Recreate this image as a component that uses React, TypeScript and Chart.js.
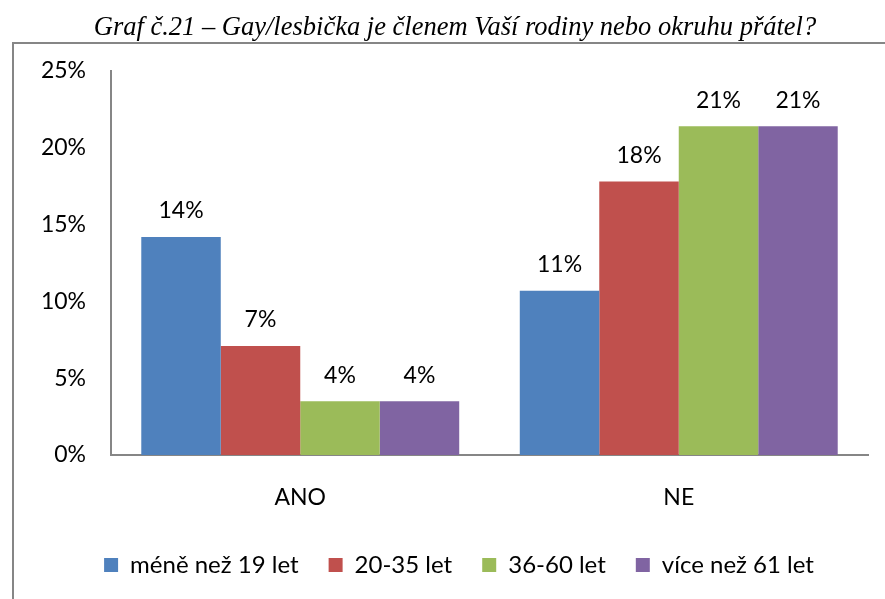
import React, { useEffect, useRef } from "react";
import { Chart, registerables } from "chart.js";

Chart.register(...registerables);

const TITLE = "Graf č.21 – Gay/lesbička je členem Vaší rodiny nebo okruhu přátel?";
const categories = ["ANO", "NE"];
const seriesNames = ["méně než 19 let", "20-35 let", "36-60 let", "více než 61 let"];
const seriesColors = ["#4F81BD", "#C0504D", "#9BBB59", "#8064A2"];
const under19 = [0.142, 0.107];
const age20to35 = [0.071, 0.178];
const age36to60 = [0.035, 0.214];
const over61 = [0.035, 0.214];
const yTicks = [0, 0.05, 0.1, 0.15, 0.2, 0.25];

const FONT = "Lato";

const pct = (v: number) => Math.round(v * 100) + "%";

const frameAndLabels = {
  id: "frameAndLabels",
  afterLayout(chart: any) {
    if (chart.legend) {
      chart.legend.left += 24;
      chart.legend.right += 24;
    }
  },
  beforeDraw(chart: any) {
    const ctx = chart.ctx;
    ctx.save();
    ctx.strokeStyle = "#868686";
    ctx.lineWidth = 2;
    ctx.strokeRect(13, 43, 1000, 1000);
    ctx.fillStyle = "#000";
    ctx.font = `italic 26.5px "Liberation Serif"`;
    ctx.textAlign = "center";
    ctx.textBaseline = "middle";
    ctx.fillText(TITLE, 455, 28);
    ctx.restore();
  },
  afterDatasetsDraw(chart: any) {
    const ctx = chart.ctx;
    ctx.save();
    ctx.fillStyle = "#000";
    ctx.font = `23px ${FONT}`;
    ctx.textAlign = "center";
    ctx.textBaseline = "middle";
    chart.data.datasets.forEach((ds: any, i: number) => {
      const meta = chart.getDatasetMeta(i);
      meta.data.forEach((bar: any, j: number) => {
        ctx.fillText(pct(ds.data[j]), bar.x, bar.y - 26);
      });
    });
    ctx.restore();
  },
};

export default function App() {
  const ref = useRef<HTMLCanvasElement>(null);
  useEffect(() => {
    const data = [under19, age20to35, age36to60, over61];
    const chart = new Chart(ref.current!, {
      type: "bar",
      data: {
        labels: categories,
        datasets: seriesNames.map((name, i) => ({
          label: name,
          data: data[i],
          backgroundColor: seriesColors[i],
          borderWidth: 0,
          categoryPercentage: 0.84,
          barPercentage: 1,
        })),
      },
      options: {
        responsive: false,
        animation: false,
        layout: { padding: { left: 2, right: 17, top: 71, bottom: 12 } },
        plugins: {
          title: { display: false },
          legend: {
            position: "bottom",
            labels: {
              color: "#000",
              font: { family: FONT, size: 24 },
              boxWidth: 14,
              boxHeight: 14,
              padding: 30,
            },
          },
          tooltip: { enabled: false },
        },
        scales: {
          x: {
            grid: { display: false, drawTicks: false },
            border: { display: true, color: "#868686", width: 2 },
            ticks: { color: "#000", font: { family: FONT, size: 23 }, padding: 29 },
            afterFit(scale: any) {
              scale.height = 68;
            },
          },
          y: {
            min: 0,
            max: 0.25,
            grid: { display: false, drawTicks: false },
            border: { display: true, color: "#868686", width: 2 },
            afterBuildTicks(scale: any) {
              scale.ticks = yTicks.map((v) => ({ value: v }));
            },
            ticks: {
              color: "#000",
              font: { family: FONT, size: 23 },
              padding: 25,
              callback: (v: any) => pct(Number(v)),
            },
            afterFit(scale: any) {
              scale.width = 109;
            },
          },
        },
      },
      plugins: [frameAndLabels],
    });
    return () => chart.destroy();
  }, []);
  return (
    <div style={{ position: "fixed", left: 0, top: 0, width: 885, height: 599, background: "#fff", overflow: "hidden" }}>
      <canvas ref={ref} width={885} height={599} style={{ display: "block" }} />
    </div>
  );
}
